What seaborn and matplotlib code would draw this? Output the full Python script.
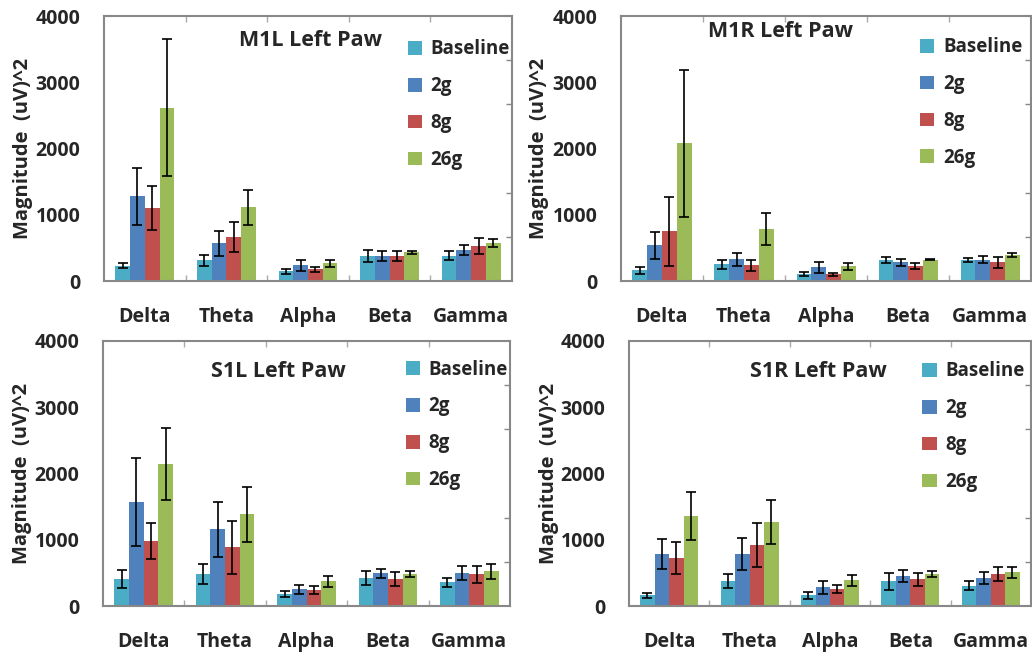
import numpy as np
import pandas as pd
import seaborn as sns
import matplotlib.pyplot as plt
from matplotlib.ticker import FixedLocator

bands = ["Delta", "Theta", "Alpha", "Beta", "Gamma"]
groups = ["Baseline", "2g", "8g", "26g"]
colors = ["#4BACC6", "#4F81BD", "#C0504D", "#9BBB59"]
titles = ["M1L Left Paw", "M1R Left Paw", "S1L Left Paw", "S1R Left Paw"]

# mean per group, in band order
m1l_mean = {"Baseline": [232, 313, 146, 384, 384],
            "2g": [1283, 571, 237, 384, 465],
            "8g": [1101, 662, 177, 374, 525],
            "26g": [2616, 1116, 268, 434, 571]}
m1l_err = {"Baseline": [35, 80, 33, 90, 65],
           "2g": [430, 186, 86, 75, 72],
           "8g": [330, 222, 38, 72, 118],
           "26g": [1030, 265, 50, 25, 60]}

m1r_mean = {"Baseline": [162, 253, 111, 313, 313],
            "2g": [540, 328, 207, 283, 323],
            "8g": [752, 237, 101, 222, 283],
            "26g": [2081, 783, 222, 323, 389]}
m1r_err = {"Baseline": [50, 65, 28, 43, 33],
           "2g": [200, 95, 85, 55, 50],
           "8g": [520, 85, 18, 45, 80],
           "26g": [1110, 245, 50, 10, 28]}

s1l_mean = {"Baseline": [404, 479, 177, 419, 358],
            "2g": [1569, 1160, 252, 494, 494],
            "8g": [979, 888, 237, 404, 479],
            "26g": [2144, 1387, 373, 479, 525]}
s1l_err = {"Baseline": [135, 150, 48, 108, 70],
           "2g": [660, 415, 65, 65, 105],
           "8g": [270, 400, 58, 108, 125],
           "26g": [537, 415, 85, 43, 113]}

s1r_mean = {"Baseline": [161, 373, 161, 373, 303],
            "2g": [782, 782, 282, 449, 419],
            "8g": [721, 918, 252, 404, 479],
            "26g": [1357, 1266, 388, 479, 509]}
s1r_err = {"Baseline": [42, 103, 58, 130, 68],
           "2g": [227, 237, 95, 90, 90],
           "8g": [240, 330, 60, 100, 105],
           "26g": [363, 333, 80, 45, 80]}

panels = [(m1l_mean, m1l_err), (m1r_mean, m1r_err),
          (s1l_mean, s1l_err), (s1r_mean, s1r_err)]

# axes boxes in figure fraction: left, bottom, width, height
boxes = [[0.1008, 0.5716, 0.3953, 0.404],
         [0.6017, 0.5716, 0.3975, 0.404],
         [0.0998, 0.0762, 0.3944, 0.404],
         [0.6095, 0.0762, 0.3895, 0.404]]
title_pos = [(0.505, 0.909), (0.39, 0.94), (0.43, 0.883), (0.47, 0.883)]
legend_x = [0.745, 0.73, 0.745, 0.73]
legend_y = [0.912, 0.92, 0.93, 0.923]


def to_frame(mean, err):
    rows = []
    for g in groups:
        for b, m, e in zip(bands, mean[g], err[g]):
            rows.append({"band": b, "group": g, "value": m, "err": e})
    return pd.DataFrame(rows)


def main():
    sns.set_theme(style="white")
    plt.rcParams['font.family'] = ['Open Sans', 'DejaVu Sans']
    plt.rcParams['font.weight'] = 'bold'

    fig = plt.figure(figsize=(10.32, 6.56), dpi=100)
    for i, (mean, err) in enumerate(panels):
        df = to_frame(mean, err)
        ax = fig.add_axes(boxes[i])
        sns.barplot(data=df, x="band", y="value", hue="group",
                    order=bands, hue_order=groups, palette=colors,
                    width=0.72, errorbar=None, saturation=1,
                    linewidth=0, ax=ax)
        # error bars on the bar centres
        for g, cont in zip(groups, ax.containers):
            sub = df[df.group == g].set_index("band").loc[bands]
            xs = [p.get_x() + p.get_width() / 2 for p in cont.patches]
            ax.errorbar(xs, sub["value"], yerr=sub["err"], fmt="none",
                        ecolor="black", elinewidth=1.2, capsize=3.5,
                        capthick=1.2)

        ax.set_ylim(0, 4000)
        ax.set_xlim(-0.5, 4.5)
        ax.set_yticks([0, 1000, 2000, 3000, 4000])
        ax.yaxis.set_minor_locator(FixedLocator(
            [4000 * k / 6 for k in range(1, 6)]))
        ax.xaxis.set_minor_locator(FixedLocator([0.5, 1.5, 2.5, 3.5]))
        ax.tick_params(axis="y", which="major", left=False, labelsize=14,
                       pad=11)
        ax.tick_params(axis="y", which="minor", left=False, right=True,
                       direction="in", length=4, color="#888888")
        ax.tick_params(axis="x", which="major", bottom=False, labelsize=14,
                       pad=13)
        ax.tick_params(axis="x", which="minor", bottom=True, top=True,
                       direction="in", length=4, color="#aaaaaa")
        for lab in ax.get_xticklabels() + ax.get_yticklabels():
            lab.set_fontweight("bold")
        for s in ax.spines.values():
            s.set_color("#888888")
            s.set_linewidth(1.5)
        ax.set_xlabel("")
        ax.set_ylabel("Magnitude  (uV)^2", fontsize=14.5, fontweight="bold")
        ax.yaxis.set_label_coords(-0.175, 0.5)
        ax.text(title_pos[i][0], title_pos[i][1], titles[i],
                transform=ax.transAxes, ha="center", va="center",
                fontsize=15.5, fontweight="bold")
        leg = ax.legend(loc="upper left",
                        bbox_to_anchor=(legend_x[i], legend_y[i]),
                        frameon=False, fontsize=13.5, handlelength=0.75,
                        handleheight=0.75, handletextpad=0.45,
                        labelspacing=0.9, borderaxespad=0, borderpad=0)
        for t in leg.get_texts():
            t.set_fontweight("bold")

    fig.savefig("out.png", dpi=100)


if __name__ == "__main__":
    main()
